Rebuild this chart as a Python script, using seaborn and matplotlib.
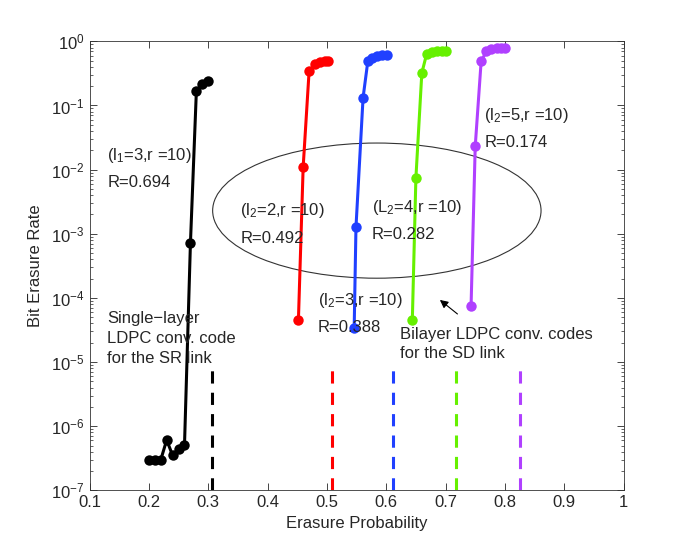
import numpy as np
import pandas as pd
import matplotlib
matplotlib.use("Agg")
import matplotlib.pyplot as plt
from matplotlib.patches import Ellipse
from matplotlib.ticker import LogLocator, NullFormatter, FixedLocator
import seaborn as sns

# ---- data ----
x_l1 = [0.20, 0.21, 0.22, 0.23, 0.24, 0.25, 0.26, 0.27, 0.28, 0.29, 0.30]
y_l1 = [3.0e-7, 3.0e-7, 3.0e-7, 6.1e-7, 3.5e-7, 4.4e-7, 5.1e-7, 7.1e-4, 0.167, 0.22, 0.237]

x_l2_2 = [0.452, 0.46, 0.47, 0.48, 0.489, 0.496, 0.502]
y_l2_2 = [4.5e-5, 0.011, 0.34, 0.44, 0.48, 0.50, 0.50]

x_l2_3 = [0.546, 0.549, 0.561, 0.569, 0.576, 0.584, 0.593, 0.601]
y_l2_3 = [3.4e-5, 1.26e-3, 0.133, 0.49, 0.55, 0.60, 0.62, 0.62]

x_l2_4 = [0.644, 0.650, 0.660, 0.668, 0.677, 0.685, 0.694, 0.701]
y_l2_4 = [4.5e-5, 7.4e-3, 0.32, 0.63, 0.67, 0.70, 0.71, 0.71]

x_l2_5 = [0.743, 0.750, 0.760, 0.769, 0.777, 0.786, 0.793, 0.800]
y_l2_5 = [7.5e-5, 0.023, 0.49, 0.70, 0.76, 0.78, 0.79, 0.79]

series_names = ["l1=3", "l2=2", "l2=3", "l2=4", "l2=5"]
series_colors = ["#000000", "#ff0000", "#2040ff", "#66f000", "#b040ff"]

thresholds = [0.306, 0.508, 0.612, 0.717, 0.825]
thr_low, thr_high = 1e-7, 1e-5

x_ticks = [0.1, 0.2, 0.3, 0.4, 0.5, 0.6, 0.7, 0.8, 0.9, 1.0]
x_ticklabels = ["0.1", "0.2", "0.3", "0.4", "0.5", "0.6", "0.7", "0.8", "0.9", "1"]

# ---- build dataframe ----
frames = []
for name, xs, ys in zip(series_names,
                        [x_l1, x_l2_2, x_l2_3, x_l2_4, x_l2_5],
                        [y_l1, y_l2_2, y_l2_3, y_l2_4, y_l2_5]):
    frames.append(pd.DataFrame({"x": xs, "y": ys, "series": name}))
df = pd.concat(frames, ignore_index=True)

sns.set_style("ticks")
plt.rcParams["font.family"] = ["Liberation Sans", "DejaVu Sans"]
plt.rcParams["mathtext.fontset"] = "custom"
plt.rcParams["mathtext.rm"] = "Liberation Sans"
plt.rcParams["mathtext.it"] = "Liberation Sans:italic"
plt.rcParams["mathtext.default"] = "regular"
plt.rcParams["font.size"] = 12

fig = plt.figure(figsize=(6.89, 5.51), dpi=100)
ax = fig.add_axes([0.13, 0.11, 0.775, 0.815])

sns.lineplot(data=df, x="x", y="y", hue="series", hue_order=series_names,
             palette=series_colors, marker="o", markersize=7.5, markeredgewidth=0,
             linewidth=2.2, estimator=None, sort=False, legend=False, ax=ax)

ax.vlines(thresholds, thr_low, thr_high, colors=series_colors,
          linestyles=(0, (4, 3)), linewidth=2.2)

ax.set_yscale("log")
ax.set_xlim(0.1, 1.0)
ax.set_ylim(1e-7, 1.0)
ax.xaxis.set_major_locator(FixedLocator(x_ticks))
ax.set_xticklabels(x_ticklabels)
ax.yaxis.set_major_locator(LogLocator(base=10, numticks=10))
ax.yaxis.set_minor_locator(LogLocator(base=10, subs=np.arange(2, 10), numticks=20))
ax.yaxis.set_minor_formatter(NullFormatter())
ax.tick_params(which="both", direction="in", top=True, right=True, labelsize=12)
ax.tick_params(which="major", length=5, width=0.6)
ax.tick_params(which="minor", length=2.5, width=0.5)
for s in ax.spines.values():
    s.set_linewidth(0.6)
    s.set_color("#333333")

ax.set_xlabel("Erasure Probability", fontsize=12, labelpad=4)
ax.set_ylabel("Bit Erasure Rate", fontsize=12, labelpad=6)

ell = Ellipse((0.538, 0.623), 0.615, 0.301, transform=ax.transAxes,
              fill=False, edgecolor="#333333", linewidth=0.8)
ax.add_patch(ell)

tk = dict(transform=ax.transAxes, fontsize=12, ha="left", va="center")
ax.text(0.033, 0.746, "(l$_1$=3,r =10)", **tk)
ax.text(0.033, 0.686, "R=0.694", **tk)
ax.text(0.282, 0.623, "(l$_2$=2,r =10)", **tk)
ax.text(0.282, 0.560, "R=0.492", **tk)
ax.text(0.528, 0.629, "(L$_2$=4,r =10)", **tk)
ax.text(0.528, 0.569, "R=0.282", **tk)
ax.text(0.428, 0.423, "(l$_2$=3,r =10)", **tk)
ax.text(0.428, 0.363, "R=0.388", **tk)
ax.text(0.738, 0.835, "(l$_2$=5,r =10)", **tk)
ax.text(0.740, 0.775, "R=0.174", **tk)
ax.text(0.033, 0.338, "Single\u2212layer\nLDPC conv. code\nfor the SR link",
        transform=ax.transAxes, fontsize=12, ha="left", va="center", linespacing=1.4)
ax.text(0.581, 0.326, "Bilayer LDPC conv. codes\nfor the SD link",
        transform=ax.transAxes, fontsize=12, ha="left", va="center", linespacing=1.4)

ax.annotate("", xy=(0.652, 0.428), xytext=(0.693, 0.389),
            xycoords="axes fraction", textcoords="axes fraction",
            arrowprops=dict(arrowstyle="-|>", color="black", lw=0.8,
                            mutation_scale=12))

fig.savefig("out.png", dpi=100)
